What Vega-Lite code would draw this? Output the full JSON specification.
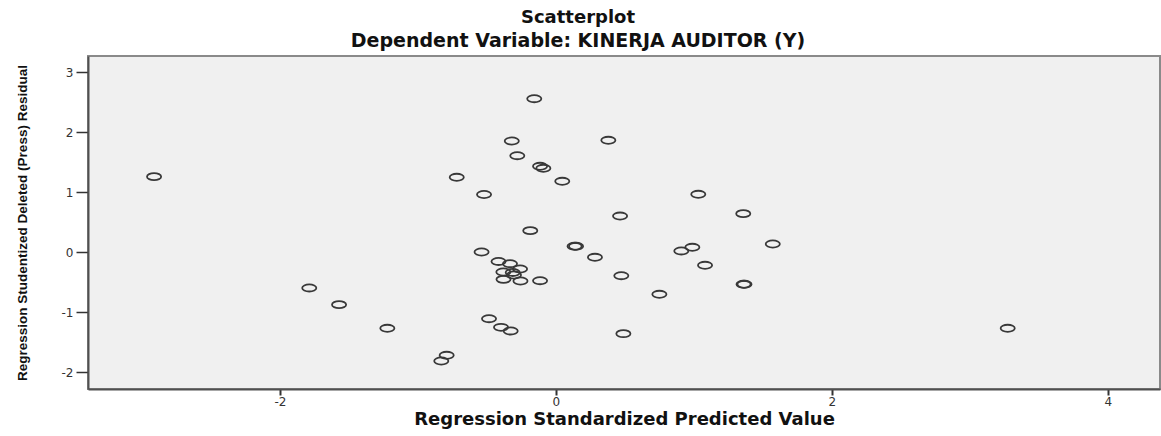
{
  "$schema": "https://vega.github.io/schema/vega-lite/v6.json",
  "width": 1072,
  "height": 333,
  "autosize": {"type": "none"},
  "padding": {"left": 88, "top": 56, "right": 1, "bottom": 47},
  "background": "white",
  "title": {
    "text": "Scatterplot",
    "subtitle": "Dependent Variable: KINERJA AUDITOR (Y)",
    "anchor": "middle",
    "frame": "group",
    "dx": -46,
    "offset": 5,
    "font": "DejaVu Sans",
    "fontSize": 18,
    "fontWeight": "bold",
    "color": "#111111",
    "subtitleFont": "DejaVu Sans",
    "subtitleFontSize": 19,
    "subtitleFontWeight": "bold",
    "subtitleColor": "#111111",
    "subtitlePadding": 5
  },
  "config": {"view": {"fill": "#F0F0F0", "stroke": "#8a8a8a", "strokeWidth": 2}},
  "data": {
    "values": [
      {"pred": -2.913, "resid": 1.259},
      {"pred": -0.157, "resid": 2.557},
      {"pred": -0.320, "resid": 1.853},
      {"pred": 0.380, "resid": 1.865},
      {"pred": -0.280, "resid": 1.608},
      {"pred": -0.115, "resid": 1.432},
      {"pred": -0.091, "resid": 1.399},
      {"pred": -0.719, "resid": 1.249},
      {"pred": 0.046, "resid": 1.182},
      {"pred": 1.032, "resid": 0.966},
      {"pred": -0.521, "resid": 0.962},
      {"pred": 0.465, "resid": 0.604},
      {"pred": 1.358, "resid": 0.643},
      {"pred": -0.186, "resid": 0.360},
      {"pred": 0.135, "resid": 0.100},
      {"pred": 0.146, "resid": 0.100},
      {"pred": 0.989, "resid": 0.083},
      {"pred": 1.572, "resid": 0.138},
      {"pred": -0.539, "resid": 0.005},
      {"pred": 0.909, "resid": 0.022},
      {"pred": 0.283, "resid": -0.083},
      {"pred": 1.081, "resid": -0.216},
      {"pred": -0.416, "resid": -0.153},
      {"pred": -0.333, "resid": -0.190},
      {"pred": -0.260, "resid": -0.278},
      {"pred": -0.381, "resid": -0.328},
      {"pred": -0.313, "resid": -0.336},
      {"pred": -0.304, "resid": -0.378},
      {"pred": -0.380, "resid": -0.450},
      {"pred": -0.257, "resid": -0.478},
      {"pred": -0.115, "resid": -0.473},
      {"pred": 0.474, "resid": -0.390},
      {"pred": 1.360, "resid": -0.533},
      {"pred": 1.367, "resid": -0.533},
      {"pred": 0.750, "resid": -0.699},
      {"pred": -1.788, "resid": -0.594},
      {"pred": -1.572, "resid": -0.872},
      {"pred": -0.485, "resid": -1.106},
      {"pred": -1.222, "resid": -1.265},
      {"pred": -0.398, "resid": -1.249},
      {"pred": -0.328, "resid": -1.310},
      {"pred": 0.489, "resid": -1.355},
      {"pred": -0.792, "resid": -1.715},
      {"pred": -0.831, "resid": -1.810},
      {"pred": 3.275, "resid": -1.265}
    ]
  },
  "mark": {
    "type": "point",
    "shape": "M -1 0 A 1 0.5 0 1 0 1 0 A 1 0.5 0 1 0 -1 0 Z",
    "size": 200,
    "filled": false,
    "color": "#383838",
    "strokeWidth": 1.8,
    "opacity": 1
  },
  "encoding": {
    "x": {
      "field": "pred",
      "type": "quantitative",
      "scale": {"domain": [-3.392, 4.379], "nice": false, "zero": false},
      "axis": {
        "title": "Regression Standardized Predicted Value",
        "values": [-2, 0, 2, 4],
        "labelExpr": "'' + datum.value",
        "grid": false,
        "domainColor": "#505050",
        "domainWidth": 2,
        "tickColor": "#333333",
        "tickWidth": 2,
        "tickSize": 6,
        "labelFont": "DejaVu Sans",
        "labelFontSize": 12,
        "labelColor": "#333333",
        "labelPadding": 1,
        "titleFont": "DejaVu Sans",
        "titleFontSize": 18,
        "titleFontWeight": "bold",
        "titleColor": "#111111",
        "titleX": 536,
        "titleY": 35,
        "titleAlign": "center",
        "titleBaseline": "alphabetic"
      }
    },
    "y": {
      "field": "resid",
      "type": "quantitative",
      "scale": {"domain": [-2.276, 3.268], "nice": false, "zero": false},
      "axis": {
        "title": "Regression Studentized Deleted (Press) Residual",
        "values": [-2, -1, 0, 1, 2, 3],
        "labelExpr": "'' + datum.value",
        "grid": false,
        "domainColor": "#505050",
        "domainWidth": 2,
        "tickColor": "#333333",
        "tickWidth": 1.5,
        "tickSize": 12,
        "labelPadding": 3,
        "labelFont": "DejaVu Sans",
        "labelFontSize": 12,
        "labelColor": "#333333",
        "titleFont": "Liberation Sans, Arial, sans-serif",
        "titleFontSize": 13.5,
        "titleFontWeight": "bold",
        "titleColor": "#111111",
        "titleX": -66,
        "titleY": 166.5,
        "titleAngle": -90,
        "titleAlign": "center",
        "titleBaseline": "middle"
      }
    }
  }
}
